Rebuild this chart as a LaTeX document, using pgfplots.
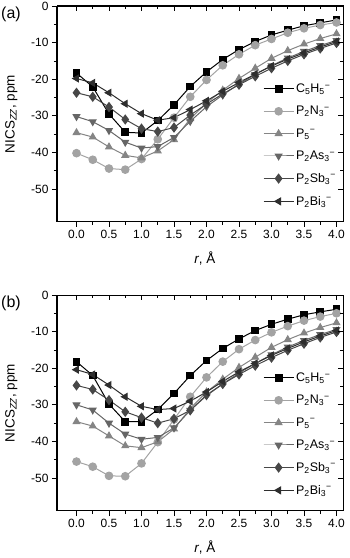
\documentclass[border=0pt]{standalone}
\usepackage{fontspec}
\setmainfont{Liberation Sans}
\usepackage{pgfplots}
\pgfplotsset{compat=1.18}
\usepackage{pgfplotstable}

\definecolor{cC}{gray}{0.0}
\definecolor{cN}{gray}{0.64}
\definecolor{cP}{gray}{0.52}
\definecolor{cAs}{gray}{0.40}
\definecolor{cSb}{gray}{0.28}
\definecolor{cBi}{gray}{0.18}

% r  C5H5  P2N3  P5  P2As3  P2Sb3  P2Bi3
\pgfplotstableread{
r    c    n     p     as    sb    bi
0.00 -18.3 -40.2 -34.6 -30.2 -23.7 -19.8
0.25 -22.1 -42.0 -35.8 -31.6 -24.8 -21.0
0.50 -29.5 -44.4 -38.5 -34.0 -27.6 -23.7
0.75 -34.5 -44.7 -40.8 -37.2 -31.0 -26.7
1.00 -34.7 -41.8 -41.5 -38.8 -33.5 -29.4
1.25 -31.3 -36.4 -39.6 -38.4 -34.3 -31.2
1.50 -27.0 -30.5 -36.5 -35.9 -33.2 -30.5
1.75 -22.0 -24.8 -30.8 -31.5 -29.8 -28.3
2.00 -18.0 -20.2 -26.5 -27.5 -26.8 -25.9
2.25 -14.6 -16.2 -23.0 -24.3 -24.0 -23.3
2.50 -11.9 -13.2 -19.8 -21.3 -21.5 -20.9
2.75  -9.7 -10.7 -17.0 -18.7 -19.2 -18.6
3.00  -7.9  -9.0 -14.3 -16.3 -17.0 -16.4
3.25  -6.6  -7.3 -12.2 -14.2 -15.0 -14.5
3.50  -5.4  -6.1 -10.4 -12.4 -13.2 -12.8
3.75  -4.6  -5.2  -8.9 -10.8 -11.6 -11.2
4.00  -3.8  -4.5  -7.6  -9.4 -10.1  -9.7
}\dataA

\pgfplotstableread{
r    c    n     p     as    sb    bi
0.00 -18.2 -45.5 -34.6 -30.0 -24.7 -20.4
0.25 -22.0 -46.9 -35.8 -31.4 -25.8 -21.7
0.50 -29.8 -49.4 -38.5 -35.0 -28.7 -24.6
0.75 -34.6 -49.5 -41.2 -38.0 -31.9 -27.8
1.00 -34.6 -46.0 -41.7 -39.4 -33.5 -30.4
1.25 -31.3 -40.2 -40.1 -38.9 -35.0 -31.3
1.50 -26.9 -34.0 -36.6 -36.3 -33.8 -31.0
1.75 -22.0 -27.8 -31.0 -31.5 -31.5 -29.0
2.00 -17.9 -22.5 -26.5 -27.5 -27.3 -26.5
2.25 -14.6 -18.2 -23.0 -24.3 -24.3 -23.6
2.50 -12.0 -14.8 -19.8 -21.3 -21.7 -21.0
2.75  -9.7 -12.3 -17.0 -18.7 -19.3 -18.7
3.00  -8.0 -10.2 -14.3 -16.3 -17.1 -16.5
3.25  -6.6  -8.5 -12.2 -14.2 -15.1 -14.6
3.50  -5.4  -7.0 -10.4 -12.4 -13.3 -12.8
3.75  -4.6  -5.9  -8.9 -10.8 -11.6 -11.2
4.00  -3.9  -5.0  -7.6  -9.4 -10.1  -9.7
}\dataB

\pgfplotsset{
  frame/.style={
    scale only axis, width=286bp, height=216bp,
    xmin=-0.3, xmax=4.1, ymin=-59, ymax=0,
    xtick={0,0.5,...,4}, minor x tick num=1,
    ytick={0,-10,-20,-30,-40,-50}, minor y tick num=1,
    major tick length=5bp, minor tick length=3bp,
    every tick/.style={black, line width=0.8bp},
    axis line style={line width=1bp},
  },
  nics/.style={
    frame,
    tick pos=left, tick align=outside,
    /pgf/number format/assume math mode=true,
    xticklabel style={/pgf/number format/.cd, fixed, fixed zerofill, precision=1},
    tick label style={font=\fontsize{12}{14}\selectfont},
    xlabel={\textit{r}, Å},
    ylabel={NICS\textsubscript{\textit{ZZ}}, ppm},
    label style={font=\fontsize{13.5}{15}\selectfont},
    xlabel style={at={(axis description cs:0.517,-0.17)}, anchor=center},
    ylabel style={at={(axis description cs:-0.16,0.5)}, anchor=center},
    legend style={at={(rel axis cs:0.72,0.65)}, anchor=north west,
      draw=none, fill=none, font=\fontsize{12.5}{14}\selectfont,
      cells={anchor=west}, row sep=8.3bp, inner sep=0pt},
    legend image code/.code={
      \draw[mark repeat=2, mark phase=2] plot coordinates {(0bp,0bp) (15bp,0bp) (30bp,0bp)};},
    every axis plot/.append style={line width=1bp, mark size=3.8bp},
  },
  mirror/.style={
    frame, tick pos=right, tick align=inside,
    xticklabels={}, yticklabels={},
  },
  sC/.style={cC, mark=square*, mark size=3.4bp},
  sN/.style={cN, mark=*},
  sP/.style={cP, mark=triangle*},
  sAs/.style={cAs, mark=triangle*, mark options={rotate=180}},
  sSb/.style={cSb, mark=diamond*, mark size=4.4bp},
  sBi/.style={cBi, mark=triangle*, mark options={rotate=90}},
}

\begin{document}
\begin{tikzpicture}
\useasboundingbox (-57bp,6bp) rectangle (293bp,-552bp);

% panel (a)
\begin{axis}[nics, at={(0,0)}, anchor=north west]
\addplot[sC]  table[x=r, y=c]  {\dataA}; \addlegendentry{C\textsubscript{5}H\textsubscript{5}\textsuperscript{−}}
\addplot[sN]  table[x=r, y=n]  {\dataA}; \addlegendentry{P\textsubscript{2}N\textsubscript{3}\textsuperscript{−}}
\addplot[sP]  table[x=r, y=p]  {\dataA}; \addlegendentry{P\textsubscript{5}\textsuperscript{−}}
\addplot[sAs] table[x=r, y=as] {\dataA}; \addlegendentry{P\textsubscript{2}As\textsubscript{3}\textsuperscript{−}}
\addplot[sSb] table[x=r, y=sb] {\dataA}; \addlegendentry{P\textsubscript{2}Sb\textsubscript{3}\textsuperscript{−}}
\addplot[sBi] table[x=r, y=bi] {\dataA}; \addlegendentry{P\textsubscript{2}Bi\textsubscript{3}\textsuperscript{−}}
\end{axis}
\begin{axis}[mirror, at={(0,0)}, anchor=north west]
\end{axis}
\node[anchor=north west, inner sep=0pt, font=\fontsize{16}{18}\selectfont] at (-56bp,-1bp) {(a)};

% panel (b)
\begin{axis}[nics, at={(0,-289bp)}, anchor=north west]
\addplot[sC]  table[x=r, y=c]  {\dataB}; \addlegendentry{C\textsubscript{5}H\textsubscript{5}\textsuperscript{−}}
\addplot[sN]  table[x=r, y=n]  {\dataB}; \addlegendentry{P\textsubscript{2}N\textsubscript{3}\textsuperscript{−}}
\addplot[sP]  table[x=r, y=p]  {\dataB}; \addlegendentry{P\textsubscript{5}\textsuperscript{−}}
\addplot[sAs] table[x=r, y=as] {\dataB}; \addlegendentry{P\textsubscript{2}As\textsubscript{3}\textsuperscript{−}}
\addplot[sSb] table[x=r, y=sb] {\dataB}; \addlegendentry{P\textsubscript{2}Sb\textsubscript{3}\textsuperscript{−}}
\addplot[sBi] table[x=r, y=bi] {\dataB}; \addlegendentry{P\textsubscript{2}Bi\textsubscript{3}\textsuperscript{−}}
\end{axis}
\begin{axis}[mirror, at={(0,-289bp)}, anchor=north west]
\end{axis}
\node[anchor=north west, inner sep=0pt, font=\fontsize{16}{18}\selectfont] at (-56bp,-290bp) {(b)};
\end{tikzpicture}
\end{document}
